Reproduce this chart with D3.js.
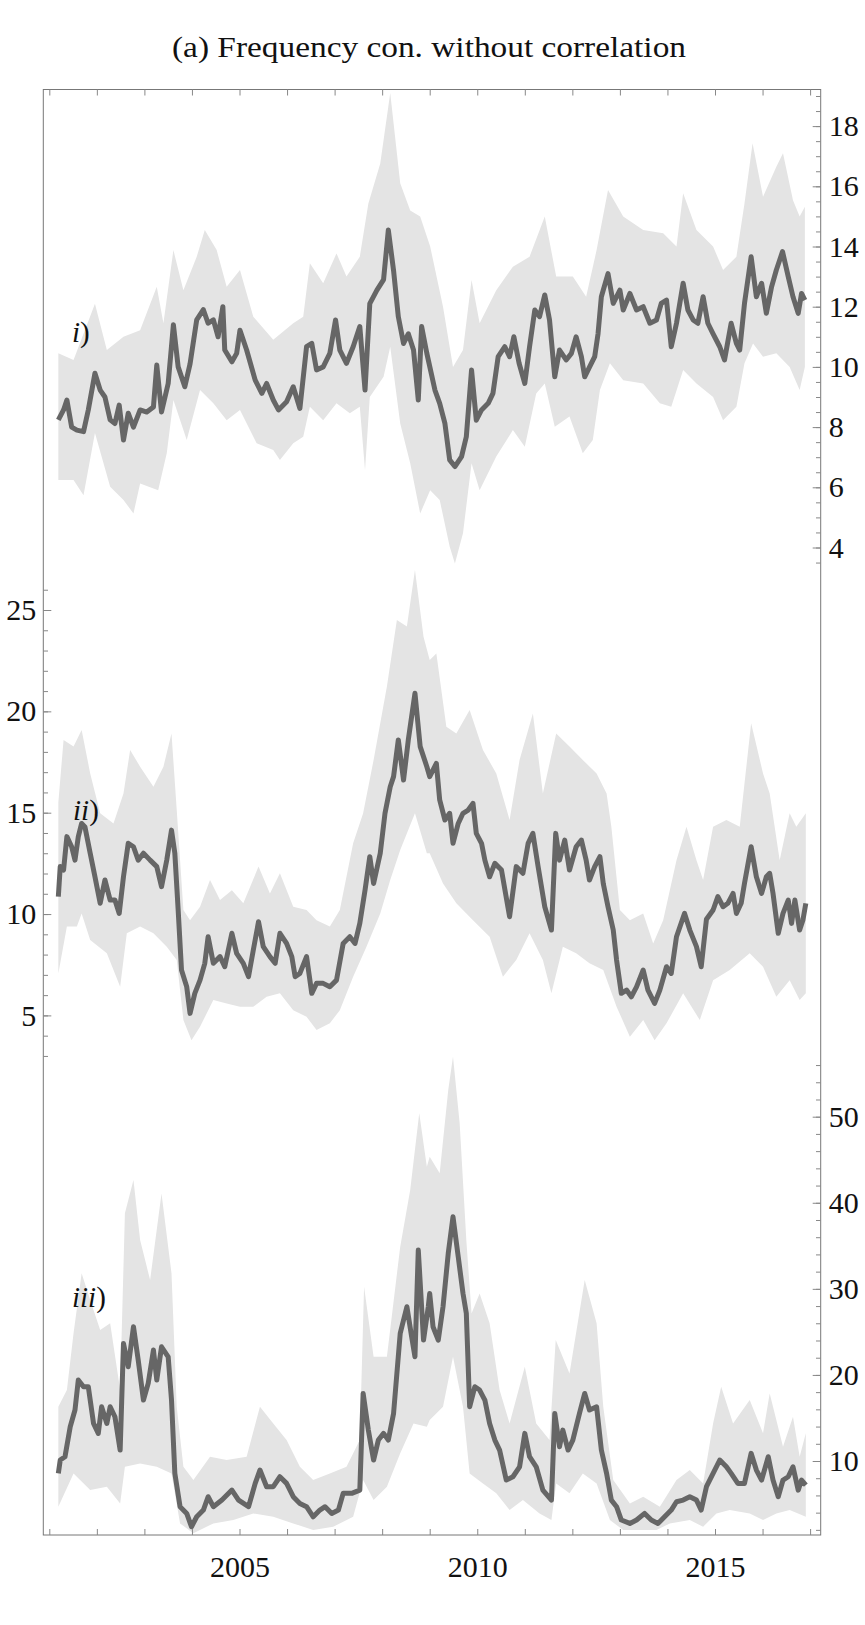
<!DOCTYPE html>
<html><head><meta charset="utf-8">
<script src="https://cdn.jsdelivr.net/npm/d3@7/dist/d3.min.js"></script>
<style>body{margin:0;background:#fff}</style>
</head><body>
<svg id="chart" width="865" height="1625"></svg>
<script>
// ---------------- data ----------------
const titleText = "(a) Frequency con. without correlation";
const yearTicks = d3.range(2001, 2018);
const yearLabels = [2005, 2010, 2015];
const ticksI = [4, 6, 8, 10, 12, 14, 16, 18];
const ticksII = [5, 10, 15, 20, 25];
const ticksIII = [10, 20, 30, 40, 50];

const lineI = [[2001.19,8.24],[2001.30,8.57],[2001.37,8.9],[2001.47,8.0],[2001.58,7.9],[2001.72,7.85],[2001.82,8.57],[2001.96,9.79],[2002.07,9.23],[2002.17,9.0],[2002.28,8.24],[2002.38,8.12],[2002.47,8.73],[2002.56,7.57],[2002.66,8.46],[2002.77,8.0],[2002.91,8.57],[2003.05,8.5],[2003.19,8.67],[2003.26,10.06],[2003.36,8.5],[2003.50,9.45],[2003.61,11.4],[2003.71,10.0],[2003.85,9.34],[2003.96,10.1],[2004.10,11.56],[2004.24,11.9],[2004.34,11.45],[2004.45,11.56],[2004.55,11.0],[2004.65,12.0],[2004.69,10.56],[2004.84,10.17],[2004.94,10.45],[2005.01,11.22],[2005.15,10.56],[2005.33,9.56],[2005.47,9.12],[2005.57,9.45],[2005.71,8.9],[2005.82,8.57],[2005.99,8.84],[2006.13,9.34],[2006.27,8.62],[2006.41,10.67],[2006.52,10.78],[2006.62,9.9],[2006.76,10.0],[2006.90,10.45],[2007.02,11.56],[2007.11,10.56],[2007.25,10.12],[2007.39,10.67],[2007.53,11.34],[2007.64,9.23],[2007.74,12.1],[2007.89,12.55],[2008.03,12.9],[2008.13,14.55],[2008.24,13.2],[2008.34,11.67],[2008.45,10.78],[2008.55,11.1],[2008.66,10.56],[2008.76,8.9],[2008.83,11.34],[2008.94,10.45],[2009.11,9.23],[2009.21,8.79],[2009.32,8.12],[2009.42,6.91],[2009.53,6.69],[2009.67,7.02],[2009.77,7.68],[2009.88,9.9],[2009.98,8.23],[2010.09,8.57],[2010.23,8.79],[2010.33,9.12],[2010.44,10.34],[2010.58,10.67],[2010.68,10.34],[2010.77,11.0],[2010.88,10.12],[2011.00,9.45],[2011.10,10.67],[2011.21,11.89],[2011.31,11.67],[2011.42,12.39],[2011.52,11.56],[2011.63,9.67],[2011.73,10.56],[2011.87,10.23],[2011.98,10.45],[2012.08,11.0],[2012.19,10.34],[2012.26,9.67],[2012.36,9.99],[2012.47,10.34],[2012.54,11.1],[2012.61,12.33],[2012.75,13.1],[2012.86,12.11],[2013.00,12.55],[2013.07,11.89],[2013.21,12.44],[2013.35,11.89],[2013.49,12.0],[2013.63,11.45],[2013.77,11.56],[2013.87,12.11],[2013.98,12.22],[2014.08,10.67],[2014.19,11.45],[2014.33,12.78],[2014.43,11.89],[2014.54,11.56],[2014.64,11.45],[2014.75,12.33],[2014.85,11.45],[2014.96,11.1],[2015.10,10.67],[2015.20,10.23],[2015.34,11.45],[2015.45,10.78],[2015.52,10.56],[2015.62,12.11],[2015.76,13.66],[2015.87,12.33],[2015.98,12.78],[2016.08,11.78],[2016.19,12.66],[2016.29,13.22],[2016.42,13.83],[2016.54,13.0],[2016.64,12.33],[2016.75,11.78],[2016.82,12.44],[2016.89,12.22]];
const upperI = [[2001.19,10.45],[2001.51,10.23],[2001.96,12.1],[2002.21,10.56],[2002.56,11.0],[2002.91,11.22],[2003.26,12.66],[2003.40,11.45],[2003.61,13.88],[2003.82,12.55],[2004.10,13.66],[2004.27,14.55],[2004.52,13.88],[2004.73,12.66],[2005.01,13.22],[2005.29,11.67],[2005.71,10.9],[2006.13,11.45],[2006.34,11.67],[2006.48,13.44],[2006.76,12.78],[2007.04,13.77],[2007.25,13.0],[2007.53,13.66],[2007.71,15.43],[2007.96,16.76],[2008.17,19.1],[2008.38,16.1],[2008.59,15.2],[2008.80,15.0],[2009.01,14.0],[2009.28,12.0],[2009.49,10.0],[2009.70,10.56],[2009.88,12.89],[2010.05,11.45],[2010.40,12.55],[2010.75,13.33],[2011.10,13.66],[2011.42,15.0],[2011.66,13.0],[2012.01,13.0],[2012.29,12.33],[2012.51,13.88],[2012.75,15.88],[2013.07,15.0],[2013.49,14.55],[2013.91,14.44],[2014.19,14.0],[2014.33,15.77],[2014.61,14.55],[2014.96,14.0],[2015.17,13.22],[2015.45,13.66],[2015.62,15.43],[2015.79,17.43],[2016.01,15.65],[2016.29,16.65],[2016.43,17.1],[2016.64,15.54],[2016.78,15.0],[2016.89,15.32]];
const lowerI = [[2001.19,6.24],[2001.51,6.24],[2001.72,5.74],[2001.96,7.8],[2002.28,6.02],[2002.56,5.58],[2002.77,5.13],[2002.91,6.13],[2003.29,5.9],[2003.47,7.13],[2003.61,8.9],[2003.89,7.57],[2004.17,9.23],[2004.45,8.79],[2004.73,8.23],[2005.01,8.57],[2005.36,7.46],[2005.71,7.24],[2005.85,6.91],[2006.13,7.46],[2006.34,7.68],[2006.48,8.68],[2006.76,8.23],[2007.04,8.79],[2007.32,8.46],[2007.53,8.68],[2007.64,6.57],[2007.74,9.0],[2008.03,9.67],[2008.17,10.67],[2008.38,8.12],[2008.59,6.8],[2008.80,5.13],[2009.01,5.9],[2009.21,5.58],[2009.42,4.03],[2009.53,3.47],[2009.70,4.47],[2009.88,6.8],[2010.05,5.9],[2010.40,7.02],[2010.75,7.9],[2011.00,7.35],[2011.24,9.12],[2011.42,9.45],[2011.63,8.01],[2011.94,8.35],[2012.22,7.13],[2012.43,7.57],[2012.58,9.23],[2012.79,10.12],[2013.07,9.56],[2013.49,9.45],[2013.84,8.79],[2014.08,8.68],[2014.33,9.9],[2014.61,9.45],[2014.96,9.0],[2015.17,8.23],[2015.45,8.68],[2015.62,10.12],[2015.80,10.78],[2016.01,10.34],[2016.29,10.45],[2016.57,10.0],[2016.78,9.23],[2016.89,10.0]];

const lineII = [[2001.19,10.86],[2001.23,12.34],[2001.30,12.17],[2001.37,13.82],[2001.47,13.32],[2001.54,12.66],[2001.61,13.82],[2001.68,14.47],[2001.75,14.3],[2001.86,13.0],[2001.96,11.84],[2002.07,10.53],[2002.17,11.68],[2002.28,10.69],[2002.38,10.69],[2002.47,10.03],[2002.56,11.84],[2002.66,13.49],[2002.77,13.32],[2002.87,12.66],[2002.98,13.0],[2003.12,12.66],[2003.26,12.34],[2003.36,11.35],[2003.47,12.66],[2003.57,14.14],[2003.64,13.0],[2003.71,10.2],[2003.78,7.24],[2003.89,6.41],[2003.96,5.1],[2004.06,6.09],[2004.17,6.74],[2004.27,7.57],[2004.34,8.88],[2004.45,7.57],[2004.59,7.9],[2004.69,7.4],[2004.84,9.05],[2004.94,8.06],[2005.08,7.57],[2005.19,6.91],[2005.29,8.22],[2005.40,9.62],[2005.50,8.39],[2005.64,7.9],[2005.75,7.57],[2005.85,9.05],[2005.99,8.55],[2006.10,7.9],[2006.17,6.91],[2006.27,7.07],[2006.41,7.9],[2006.52,6.09],[2006.62,6.58],[2006.76,6.58],[2006.90,6.41],[2007.04,6.74],[2007.18,8.55],[2007.32,8.88],[2007.43,8.55],[2007.53,9.54],[2007.64,11.18],[2007.74,12.83],[2007.82,11.51],[2007.96,13.0],[2008.06,14.97],[2008.17,16.28],[2008.24,16.78],[2008.34,18.59],[2008.45,16.61],[2008.55,18.59],[2008.69,20.89],[2008.80,18.26],[2008.94,17.27],[2009.00,16.78],[2009.14,17.43],[2009.21,15.63],[2009.32,14.64],[2009.42,14.97],[2009.49,13.49],[2009.60,14.47],[2009.70,14.97],[2009.81,15.13],[2009.91,15.46],[2009.98,13.98],[2010.09,13.49],[2010.16,12.66],[2010.26,11.84],[2010.37,12.5],[2010.51,12.17],[2010.68,9.87],[2010.82,12.34],[2010.96,12.01],[2011.07,13.49],[2011.17,13.98],[2011.28,12.34],[2011.42,10.36],[2011.56,9.21],[2011.65,13.98],[2011.73,12.66],[2011.84,13.65],[2011.94,12.17],[2012.08,13.32],[2012.19,13.65],[2012.29,12.66],[2012.36,11.68],[2012.47,12.34],[2012.58,12.83],[2012.65,11.51],[2012.75,10.36],[2012.86,9.21],[2012.93,7.73],[2013.03,6.09],[2013.14,6.25],[2013.24,5.92],[2013.35,6.41],[2013.49,7.24],[2013.59,6.25],[2013.73,5.59],[2013.84,6.25],[2013.98,7.4],[2014.08,7.07],[2014.19,8.88],[2014.36,10.03],[2014.47,9.21],[2014.61,8.39],[2014.71,7.4],[2014.82,9.74],[2014.96,10.2],[2015.06,10.86],[2015.17,10.36],[2015.27,10.53],[2015.38,11.02],[2015.45,10.03],[2015.55,10.53],[2015.62,11.51],[2015.76,13.32],[2015.87,11.84],[2015.98,11.02],[2016.08,11.84],[2016.15,12.01],[2016.22,11.02],[2016.33,9.05],[2016.43,10.03],[2016.54,10.69],[2016.61,9.54],[2016.68,10.69],[2016.78,9.21],[2016.85,9.71],[2016.91,10.53]];
const upperII = [[2001.19,15.5],[2001.30,18.59],[2001.51,18.26],[2001.68,19.08],[2001.86,16.94],[2002.07,14.97],[2002.35,14.47],[2002.56,15.95],[2002.70,18.09],[2002.91,17.27],[2003.19,16.28],[2003.40,17.27],[2003.57,18.91],[2003.68,15.13],[2003.82,10.2],[2003.96,9.7],[2004.17,10.36],[2004.38,11.68],[2004.59,10.69],[2004.84,11.18],[2005.08,10.53],[2005.40,12.34],[2005.64,11.02],[2005.85,12.01],[2006.13,10.36],[2006.41,10.2],[2006.62,9.7],[2006.90,9.38],[2007.11,10.2],[2007.39,13.49],[2007.60,14.97],[2007.82,17.6],[2008.10,21.22],[2008.31,24.51],[2008.52,24.18],[2008.69,26.97],[2008.87,23.68],[2009.00,22.53],[2009.14,22.86],[2009.35,19.24],[2009.56,18.91],[2009.84,20.07],[2010.12,18.09],[2010.40,16.94],[2010.68,14.64],[2010.89,17.6],[2011.17,19.9],[2011.38,15.95],[2011.66,18.91],[2011.94,18.26],[2012.22,17.6],[2012.51,16.94],[2012.72,15.95],[2012.82,14.31],[2013.00,10.2],[2013.21,9.7],[2013.49,10.03],[2013.70,8.55],[2013.91,9.7],[2014.19,12.66],[2014.40,14.31],[2014.61,12.66],[2014.75,11.68],[2014.96,14.31],[2015.24,14.64],[2015.52,14.31],[2015.76,19.41],[2016.01,16.94],[2016.15,15.95],[2016.36,12.66],[2016.57,14.97],[2016.71,14.31],[2016.91,14.97]];
const lowerII = [[2001.19,7.07],[2001.37,9.38],[2001.58,9.38],[2001.68,10.03],[2001.86,8.72],[2002.21,8.06],[2002.49,6.41],[2002.63,9.05],[2002.91,9.38],[2003.19,9.05],[2003.47,8.39],[2003.68,7.73],[2003.82,4.77],[2003.99,3.78],[2004.17,4.44],[2004.45,5.76],[2004.73,5.59],[2005.01,5.43],[2005.29,5.43],[2005.57,5.92],[2005.85,6.09],[2006.13,5.26],[2006.41,4.93],[2006.62,4.28],[2006.90,4.61],[2007.11,5.26],[2007.39,6.91],[2007.67,8.39],[2007.96,10.03],[2008.17,11.68],[2008.38,13.16],[2008.69,14.97],[2008.94,13.0],[2009.00,13.0],[2009.28,11.51],[2009.56,10.53],[2009.91,9.7],[2010.26,8.88],[2010.54,6.91],[2010.82,7.73],[2011.10,9.05],[2011.38,7.73],[2011.56,6.09],[2011.80,8.39],[2012.08,8.06],[2012.36,7.57],[2012.65,7.24],[2012.93,5.43],[2013.21,3.95],[2013.49,4.77],[2013.73,3.78],[2013.98,4.61],[2014.33,6.09],[2014.68,4.77],[2014.96,6.74],[2015.31,7.24],[2015.73,8.06],[2016.01,7.4],[2016.29,5.92],[2016.57,6.74],[2016.78,5.76],[2016.91,6.09]];

const lineIII = [[2001.19,8.56],[2001.23,10.11],[2001.33,10.5],[2001.44,13.98],[2001.54,15.92],[2001.61,19.4],[2001.72,18.63],[2001.82,18.63],[2001.93,14.37],[2002.03,13.21],[2002.10,16.3],[2002.21,14.37],[2002.28,16.3],[2002.38,15.14],[2002.49,11.27],[2002.56,23.66],[2002.66,20.95],[2002.77,25.6],[2002.87,21.72],[2002.98,17.08],[2003.08,19.02],[2003.19,22.89],[2003.26,19.4],[2003.36,23.27],[2003.50,22.11],[2003.57,17.08],[2003.64,8.56],[2003.75,4.69],[2003.89,3.91],[2003.99,2.36],[2004.10,3.52],[2004.24,4.3],[2004.34,5.85],[2004.45,4.69],[2004.63,5.46],[2004.84,6.62],[2004.98,5.46],[2005.19,4.69],[2005.33,7.4],[2005.43,8.95],[2005.57,7.01],[2005.71,7.01],[2005.85,8.17],[2005.99,7.4],[2006.13,5.85],[2006.27,5.07],[2006.41,4.69],[2006.55,3.52],[2006.69,4.3],[2006.80,4.69],[2006.94,3.91],[2007.08,4.3],[2007.18,6.24],[2007.36,6.24],[2007.53,6.62],[2007.60,17.85],[2007.71,13.59],[2007.82,10.11],[2007.92,12.43],[2008.03,13.21],[2008.13,12.43],[2008.24,15.53],[2008.38,24.83],[2008.52,27.92],[2008.62,24.44],[2008.69,22.11],[2008.76,34.51],[2008.87,24.05],[2008.97,27.92],[2009.00,29.47],[2009.07,25.6],[2009.18,24.05],[2009.28,27.92],[2009.39,34.12],[2009.49,38.38],[2009.60,33.73],[2009.70,29.47],[2009.77,27.15],[2009.84,16.3],[2009.95,18.63],[2010.05,18.24],[2010.16,17.08],[2010.26,14.37],[2010.37,12.43],[2010.47,11.27],[2010.61,7.79],[2010.75,8.17],[2010.89,9.33],[2011.00,13.21],[2011.10,10.5],[2011.24,9.33],[2011.38,6.62],[2011.56,5.46],[2011.63,15.53],[2011.73,11.66],[2011.80,13.59],[2011.91,11.27],[2012.01,12.43],[2012.15,15.53],[2012.26,17.85],[2012.36,15.92],[2012.51,16.3],[2012.61,11.27],[2012.72,8.56],[2012.82,5.46],[2012.93,4.69],[2013.03,3.14],[2013.21,2.75],[2013.35,3.14],[2013.52,3.91],[2013.66,3.14],[2013.80,2.75],[2013.94,3.52],[2014.08,4.3],[2014.19,5.27],[2014.33,5.46],[2014.47,5.85],[2014.61,5.46],[2014.71,4.3],[2014.82,7.01],[2014.96,8.56],[2015.10,10.11],[2015.24,9.33],[2015.34,8.56],[2015.48,7.4],[2015.62,7.4],[2015.76,10.89],[2015.87,8.95],[2015.98,7.79],[2016.12,10.5],[2016.22,7.79],[2016.33,5.85],[2016.43,7.79],[2016.54,8.17],[2016.64,9.33],[2016.75,6.62],[2016.82,7.79],[2016.91,7.2]];
const upperIII = [[2001.19,16.3],[2001.37,18.24],[2001.51,24.83],[2001.68,31.8],[2001.86,28.7],[2002.07,25.21],[2002.28,25.99],[2002.49,18.24],[2002.59,38.77],[2002.77,42.64],[2002.91,35.67],[2003.12,31.02],[2003.36,41.09],[2003.57,31.8],[2003.68,16.3],[2003.82,9.33],[2004.03,7.79],[2004.38,10.5],[2004.73,10.11],[2005.15,10.5],[2005.43,16.3],[2005.71,14.37],[2005.99,12.43],[2006.27,9.33],[2006.55,7.79],[2006.90,8.56],[2007.25,9.33],[2007.53,12.43],[2007.62,30.25],[2007.82,22.11],[2008.10,22.11],[2008.38,34.9],[2008.59,41.48],[2008.78,50.39],[2008.94,44.19],[2009.00,45.35],[2009.21,43.42],[2009.39,53.1],[2009.49,56.97],[2009.63,49.23],[2009.77,35.67],[2009.88,27.15],[2010.05,29.47],[2010.26,25.99],[2010.47,18.24],[2010.68,14.37],[2011.00,20.95],[2011.24,14.37],[2011.52,12.43],[2011.65,24.05],[2011.94,20.18],[2012.26,31.02],[2012.51,25.99],[2012.65,16.3],[2012.86,7.79],[2013.21,5.07],[2013.49,5.85],[2013.84,4.69],[2014.19,7.79],[2014.47,8.95],[2014.75,7.4],[2014.96,14.37],[2015.13,18.63],[2015.38,14.37],[2015.73,17.08],[2016.01,13.21],[2016.15,17.85],[2016.43,11.66],[2016.64,15.14],[2016.78,10.5],[2016.91,13.21]];
const lowerIII = [[2001.19,4.69],[2001.51,8.56],[2001.86,6.62],[2002.21,7.01],[2002.49,5.07],[2002.59,9.33],[2002.91,9.72],[2003.26,9.33],[2003.57,8.56],[2003.75,2.75],[2004.03,1.6],[2004.45,2.75],[2004.87,3.14],[2005.29,3.91],[2005.71,3.52],[2006.13,2.75],[2006.55,1.98],[2006.97,2.36],[2007.39,3.52],[2007.60,7.79],[2007.82,5.46],[2008.10,7.01],[2008.38,10.89],[2008.66,14.37],[2008.94,13.98],[2009.00,14.76],[2009.28,16.3],[2009.49,22.11],[2009.70,16.3],[2009.84,8.56],[2010.12,7.4],[2010.40,6.24],[2010.68,4.3],[2010.96,5.46],[2011.31,3.91],[2011.56,3.14],[2011.66,7.4],[2011.94,6.24],[2012.22,8.56],[2012.51,7.4],[2012.79,3.14],[2013.07,1.98],[2013.35,1.98],[2013.77,1.98],[2014.05,2.75],[2014.47,3.14],[2014.75,2.36],[2015.03,3.91],[2015.31,4.3],[2015.73,3.91],[2016.01,3.14],[2016.29,3.91],[2016.57,4.3],[2016.91,3.52]];

// ---------------- drawing ----------------
const FONT = "'Liberation Serif', 'Times New Roman', serif";
const frame = {left: 43.3, right: 820.7, top: 89.5, bottom: 1535};
const svg = d3.select("#chart");
svg.append("rect").attr("width", 865).attr("height", 1625).attr("fill", "#fff");

const x = d3.scaleLinear().domain([2001, 2017]).range([49.3, 810.1]);

const panels = [
  {key: "i", line: lineI, upper: upperI, lower: lowerI,
   y: d3.scaleLinear().domain([4, 18]).range([547.5, 126.1]),
   side: "right", minor: d3.range(3.5, 19.01, 0.5), major: ticksI, label: [72, 342]},
  {key: "ii", line: lineII, upper: upperII, lower: lowerII,
   y: d3.scaleLinear().domain([5, 25]).range([1015.4, 610]),
   side: "left", minor: d3.range(3, 26.01, 1), major: ticksII, label: [73, 820]},
  {key: "iii", line: lineIII, upper: upperIII, lower: lowerIII,
   y: d3.scaleLinear().domain([10, 50]).range([1461, 1116.7]),
   side: "right", minor: d3.range(2, 56.01, 2), major: ticksIII, label: [72, 1307]}
];

svg.append("defs").append("clipPath").attr("id", "clip")
  .append("rect").attr("x", frame.left).attr("y", frame.top)
  .attr("width", frame.right - frame.left).attr("height", frame.bottom - frame.top);

const plot = svg.append("g").attr("clip-path", "url(#clip)");

panels.forEach(p => {
  const ln = d3.line().x(d => x(d[0])).y(d => p.y(d[1]));
  const poly = p.upper.concat(p.lower.slice().reverse());
  plot.append("path").attr("d", ln(poly) + "Z")
    .attr("fill", "#e4e4e4").attr("stroke", "none");
});
panels.forEach(p => {
  const ln = d3.line().x(d => x(d[0])).y(d => p.y(d[1]));
  plot.append("path").attr("d", ln(p.line))
    .attr("fill", "none").attr("stroke", "#666666")
    .attr("stroke-width", 5).attr("stroke-linejoin", "round");
});

// frame
svg.append("rect").attr("x", frame.left).attr("y", frame.top)
  .attr("width", frame.right - frame.left).attr("height", frame.bottom - frame.top)
  .attr("fill", "none").attr("stroke", "#777").attr("stroke-width", 1);

function styleAxis(g) {
  g.select(".domain").remove();
  g.selectAll("line").attr("stroke", "#888").attr("stroke-width", 1);
  g.selectAll("text").attr("fill", "#111").attr("font-family", FONT).attr("font-size", 30);
}

panels.forEach(p => {
  const isRight = p.side === "right";
  const gx = isRight ? frame.right : frame.left;
  const mk = isRight ? d3.axisRight : d3.axisLeft;
  svg.append("g").attr("transform", `translate(${gx},0)`)
    .call(mk(p.y).tickValues(p.minor).tickSize(-4.7).tickFormat(""))
    .call(styleAxis);
  svg.append("g").attr("transform", `translate(${gx},0)`)
    .call(mk(p.y).tickValues(p.major).tickSize(-8).tickPadding(isRight ? 8 : 7).tickFormat(d3.format("d")))
    .call(styleAxis);
  const t = svg.append("text").attr("x", p.label[0]).attr("y", p.label[1])
    .attr("font-family", FONT).attr("font-size", 29).attr("fill", "#111");
  t.append("tspan").attr("font-style", "italic").text(p.key);
  t.append("tspan").text(")");
});

svg.append("g").attr("transform", `translate(0,${frame.bottom})`)
  .call(d3.axisBottom(x).tickValues(yearTicks).tickSize(-6).tickPadding(21)
    .tickFormat(d => yearLabels.includes(d) ? String(d) : ""))
  .call(styleAxis);
svg.append("g").attr("transform", `translate(0,${frame.top})`)
  .call(d3.axisTop(x).tickValues(yearTicks).tickSize(-6).tickFormat(""))
  .call(styleAxis);

svg.append("text").attr("x", 429).attr("y", 57).attr("text-anchor", "middle")
  .attr("font-family", FONT).attr("font-size", 29).attr("fill", "#111")
  .attr("textLength", 514).attr("lengthAdjust", "spacingAndGlyphs")
  .text(titleText);
</script>
</body></html>
